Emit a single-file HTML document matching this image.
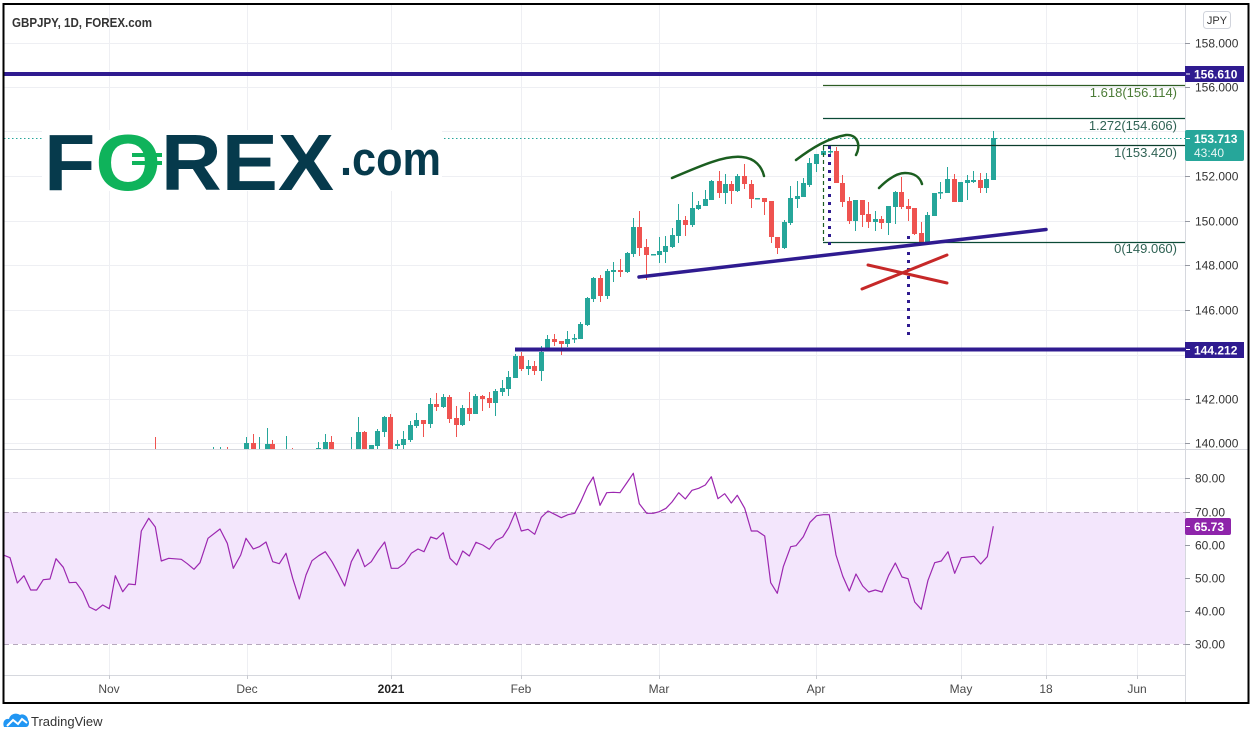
<!DOCTYPE html>
<html><head><meta charset="utf-8"><style>
html,body{margin:0;padding:0;background:#fff;}
svg{display:block;font-family:"Liberation Sans",sans-serif;}
</style></head><body>
<svg width="1255" height="740" viewBox="0 0 1255 740" xmlns="http://www.w3.org/2000/svg">
<defs>
<clipPath id="pp"><rect x="4" y="5" width="1181" height="444"/></clipPath>
<clipPath id="rp"><rect x="4" y="450" width="1181" height="225"/></clipPath>
</defs>
<rect width="1255" height="740" fill="#fff"/>

<!-- grid -->
<g stroke="#eeeff3" stroke-width="1">
<path d="M4 43.5H1185M4 87.5H1185M4 131.5H1185M4 176.5H1185M4 221.5H1185M4 265.5H1185M4 310.5H1185M4 355.5H1185M4 399.5H1185M4 443.5H1185"/>
<path d="M4 478.5H1185M4 545.5H1185M4 578.5H1185M4 611.5H1185"/>
<path d="M109.5 5V679M247.5 5V679M391.5 5V679M521.5 5V679M659.5 5V679M816.5 5V679M961.5 5V679M1046.5 5V679M1137.5 5V679"/>
</g>

<!-- RSI band -->
<rect x="4" y="512" width="1181" height="132" fill="#f3e6fc"/>
<path d="M4 512.5H1185M4 644.5H1185" stroke="#b6a8bd" stroke-width="1" stroke-dasharray="5 4"/>

<!-- current price dotted -->
<path d="M4 138.5H1185" stroke="#26a69a" stroke-width="1" stroke-dasharray="1.5 2.5"/>

<!-- logo -->
<rect x="42" y="130" width="400" height="61" fill="#fff"/>
<text x="44" y="190" font-size="80" font-weight="bold" fill="#063a4c" textLength="290" lengthAdjust="spacingAndGlyphs">F<tspan fill="#0fb35b">O</tspan>REX</text>
<rect x="132" y="153" width="30" height="4" fill="#0fb35b"/>
<rect x="132" y="161" width="30" height="4" fill="#0fb35b"/>
<text x="340" y="175" font-size="47" font-weight="bold" fill="#063a4c" textLength="101" lengthAdjust="spacingAndGlyphs">.com</text>

<!-- title -->
<text x="12" y="27" font-size="13" font-weight="bold" fill="#333" textLength="140" lengthAdjust="spacingAndGlyphs">GBPJPY, 1D, FOREX.com</text>

<!-- candles -->
<g clip-path="url(#pp)">
<path stroke="#26a69a" stroke-width="1" fill="none" d="M213.5 447V460M220.5 447V460M246.5 437V460M259.5 437V460M267.5 428V460M286.5 436V460M318.5 442V460M325.5 434V460M351.5 437V460M358.5 417V460M371.5 445V460M377.5 429V452M384.5 416V437M397.5 440V452M403.5 431V452M410.5 421V442M416.5 413V428M430.5 398V428M443.5 394V408M462.5 405V426M475.5 394V414M495.5 389V416M502.5 380V396M508.5 371V396M515.5 354V378M528.5 360V375M541.5 346V381M547.5 335V348M567.5 331V347M574.5 334V343M580.5 322V339M587.5 297V326M593.5 277V302M607.5 269V299M613.5 262V282M627.5 252V273M633.5 218V257M659.5 237V263M665.5 236V263M672.5 228V248M678.5 204V243M692.5 192V227M698.5 201V210M705.5 190V206M711.5 180V200M725.5 174V204M737.5 174V192M784.5 220V249M790.5 186V225M797.5 181V208M803.5 178V197M809.5 158V187M816.5 154V172M823.5 146V155M830.5 147V157M855.5 200V231M875.5 211V231M888.5 206V235M895.5 191V224M927.5 212V242M934.5 193V216M940.5 182V199M947.5 167V193M960.5 182V202M967.5 175V200M973.5 171V183M986.5 173V193M993.5 131V180"/>
<g fill="#26a69a">
<rect x="244" y="443" width="5" height="12"/><rect x="257" y="452" width="5" height="3"/><rect x="265" y="444" width="5" height="11"/><rect x="284" y="452" width="5" height="8"/><rect x="316" y="448" width="5" height="7"/><rect x="323" y="442" width="5" height="13"/><rect x="349" y="452" width="5" height="8"/><rect x="356" y="432" width="5" height="23"/><rect x="369" y="445" width="5" height="10"/><rect x="375" y="431" width="5" height="15"/><rect x="382" y="417" width="5" height="15"/><rect x="395" y="444" width="5" height="2"/><rect x="401" y="439" width="5" height="6"/><rect x="408" y="425" width="5" height="15"/><rect x="414" y="420" width="5" height="6"/><rect x="428" y="404" width="5" height="20"/><rect x="441" y="397" width="5" height="10"/><rect x="460" y="408" width="5" height="17"/><rect x="473" y="396" width="5" height="18"/><rect x="493" y="391" width="5" height="12"/><rect x="500" y="388" width="5" height="4"/><rect x="506" y="377" width="5" height="12"/><rect x="513" y="356" width="5" height="22"/><rect x="526" y="366" width="5" height="3"/><rect x="539" y="352" width="5" height="19"/><rect x="545" y="339" width="5" height="9"/><rect x="565" y="339" width="5" height="5"/><rect x="572" y="338" width="5" height="1.5"/><rect x="578" y="324" width="5" height="15"/><rect x="585" y="298" width="5" height="27"/><rect x="591" y="278" width="5" height="21"/><rect x="605" y="271" width="5" height="25"/><rect x="611" y="270" width="5" height="2"/><rect x="625" y="253" width="5" height="19"/><rect x="631" y="227" width="5" height="27"/><rect x="651" y="254" width="5" height="1.5"/><rect x="657" y="251" width="5" height="4"/><rect x="663" y="246" width="5" height="6"/><rect x="670" y="235" width="5" height="12"/><rect x="676" y="220" width="5" height="16"/><rect x="690" y="208" width="5" height="17"/><rect x="696" y="205" width="5" height="4"/><rect x="703" y="199" width="5" height="7"/><rect x="709" y="181" width="5" height="19"/><rect x="723" y="184" width="5" height="9"/><rect x="735" y="176" width="5" height="15"/><rect x="755" y="198" width="5" height="1.5"/><rect x="782" y="222" width="5" height="26"/><rect x="788" y="198" width="5" height="25"/><rect x="795" y="196" width="5" height="3"/><rect x="801" y="183" width="5" height="14"/><rect x="807" y="163" width="5" height="22"/><rect x="814" y="154" width="5" height="10"/><rect x="821" y="151" width="5" height="4"/><rect x="828" y="151" width="5" height="1.5"/><rect x="853" y="200" width="5" height="21"/><rect x="873" y="219" width="5" height="3"/><rect x="886" y="206" width="5" height="17"/><rect x="893" y="192" width="5" height="15"/><rect x="925" y="215" width="5" height="27"/><rect x="932" y="193" width="5" height="23"/><rect x="938" y="192" width="5" height="1.5"/><rect x="945" y="179" width="5" height="14"/><rect x="958" y="182" width="5" height="20"/><rect x="965" y="180" width="5" height="3"/><rect x="971" y="180" width="5" height="2"/><rect x="984" y="179" width="5" height="9"/><rect x="991" y="138" width="5" height="42"/>
</g>
<path stroke="#ef5350" stroke-width="1" fill="none" d="M155.5 437V460M227.5 447V460M253.5 434V460M272.5 440V460M292.5 448V460M331.5 436V460M364.5 431V460M390.5 414V455M423.5 420V437M436.5 393V411M449.5 395V423M456.5 406V437M469.5 392V421M482.5 395V411M489.5 392V408M521.5 352V371M534.5 361V375M554.5 334V346M561.5 341V355M600.5 275V302M620.5 259V277M639.5 211V256M646.5 239V280M685.5 216V236M719.5 171V198M731.5 181V204M744.5 164V189M751.5 180V208M764.5 198V215M771.5 201V243M777.5 237V254M836.5 147V183M842.5 175V207M849.5 197V224M862.5 200V227M868.5 202V228M881.5 216V229M901.5 177V209M908.5 199V221M914.5 208V235M921.5 222V242M954.5 174V202M980.5 173V193"/>
<g fill="#ef5350">
<rect x="251" y="443" width="5" height="12"/><rect x="270" y="444" width="5" height="11"/><rect x="329" y="442" width="5" height="13"/><rect x="362" y="432" width="5" height="23"/><rect x="388" y="417" width="5" height="35"/><rect x="421" y="420" width="5" height="4"/><rect x="434" y="404" width="5" height="3"/><rect x="447" y="397" width="5" height="22"/><rect x="454" y="418" width="5" height="7"/><rect x="467" y="408" width="5" height="6"/><rect x="480" y="396" width="5" height="3"/><rect x="487" y="398" width="5" height="5"/><rect x="519" y="356" width="5" height="13"/><rect x="532" y="366" width="5" height="5"/><rect x="552" y="339" width="5" height="3"/><rect x="559" y="341" width="5" height="3"/><rect x="598" y="278" width="5" height="18"/><rect x="618" y="270" width="5" height="2"/><rect x="637" y="227" width="5" height="21"/><rect x="644" y="247" width="5" height="8"/><rect x="683" y="220" width="5" height="5"/><rect x="717" y="181" width="5" height="12"/><rect x="729" y="184" width="5" height="7"/><rect x="742" y="176" width="5" height="8"/><rect x="749" y="184" width="5" height="15"/><rect x="762" y="198" width="5" height="4"/><rect x="769" y="201" width="5" height="36"/><rect x="775" y="237" width="5" height="11"/><rect x="834" y="151" width="5" height="32"/><rect x="840" y="183" width="5" height="19"/><rect x="847" y="201" width="5" height="20"/><rect x="860" y="200" width="5" height="15"/><rect x="866" y="214" width="5" height="8"/><rect x="879" y="219" width="5" height="4"/><rect x="899" y="192" width="5" height="15"/><rect x="906" y="206" width="5" height="3"/><rect x="912" y="208" width="5" height="26"/><rect x="919" y="233" width="5" height="9"/><rect x="952" y="179" width="5" height="23"/><rect x="978" y="180" width="5" height="8"/>
</g>

<!-- horizontal levels -->
<path d="M4 74H1185" stroke="#2f1b90" stroke-width="4"/>
<path d="M515 349.5H1185" stroke="#2f1b90" stroke-width="4"/>

<!-- fib -->
<path d="M823 85.5H1185" stroke="#2e5d24" stroke-width="1.3"/>
<path d="M823 118.5H1185" stroke="#0b4a36" stroke-width="1.3"/>
<path d="M823 145.5H1185" stroke="#0b3d2c" stroke-width="1.3"/>
<path d="M823 242.5H1185" stroke="#0b4a36" stroke-width="1.3"/>
<path d="M823.5 146V242" stroke="#1b5e20" stroke-width="1.2" stroke-dasharray="4 3"/>
<g font-size="13" text-anchor="end">
<text x="1177" y="97" fill="#4b7b36">1.618(156.114)</text>
<text x="1177" y="130" fill="#2f6254">1.272(154.606)</text>
<text x="1177" y="157" fill="#2f6254">1(153.420)</text>
<text x="1177" y="253" fill="#2f6254">0(149.060)</text>
</g>

<!-- trend line -->
<path d="M639 277L1046 229.5" stroke="#2f1b90" stroke-width="3.5" stroke-linecap="round"/>

<!-- dotted verticals -->
<path d="M829.5 146V247" stroke="#2f1b90" stroke-width="3" stroke-dasharray="3 5"/>
<path d="M908.5 236V339" stroke="#2f1b90" stroke-width="3" stroke-dasharray="3 5"/>

<!-- red X -->
<path d="M868 265L947 283M862 289L947 255" stroke="#c62828" stroke-width="3" stroke-linecap="round"/>

<!-- green arcs -->
<g stroke="#1b5e20" stroke-width="2.5" fill="none" stroke-linecap="round">
<path d="M672 178C700 166 725 155 742 157C755 158 762 167 764 176"/>
<path d="M796 160C812 148 828 138 846 135C858 134 861 146 856 155"/>
<path d="M879 188C888 179 897 173 905 173C914 173 920 177 922 184"/>
</g>
</g>

<!-- RSI line -->
<g clip-path="url(#rp)">
<polyline fill="none" stroke="#9c27b0" stroke-width="1.2" stroke-linejoin="round" points="3.3,555 10,557.7 17.3,583 24,575.7 30.7,590 36.7,590 43.3,579.7 50,579 56,558.7 63.3,567.3 69.3,582.7 76,582.3 82.7,591.7 89.3,607 96,610.3 102.7,605 109.3,608.7 115.3,575.7 122.7,591.7 128.7,584 135.3,584.7 141.3,531 148.7,518.3 155.3,527 161.3,561 168.7,558.3 181.3,559.3 187.3,563.7 194,569.3 200,562.7 208,538.3 220,529 227.3,543.3 233.3,568.3 240.7,555 246,538.3 253.3,549 259.3,546.7 266,542 272.7,561.7 279.3,563.7 286,553.3 292.7,578.3 299.3,599 306,575 312,560.7 318.7,555.7 325.3,551.7 332,561.7 338,572.7 344.7,586 351.3,561.7 358,549.3 364.7,566.7 371.3,561.7 378,551 384.7,542 391.3,568.3 398,568.3 404.7,563.3 411.3,553.3 418,549 424,551.7 430.7,537 436.7,539 443.3,532.7 450,558.3 456.7,565 462.7,551 469.3,556 476,542.3 482.7,545 489.3,549.3 496,540.3 502.7,537 508.7,527.7 515.3,512.3 521.3,531 528,529.3 534.7,534.3 541.3,517.3 548,511 554.7,514.3 561.3,517.7 568,514.7 574.7,513.3 580.7,501.7 587.3,486.7 593.3,477 600,505.3 606.7,492.7 613.3,492.3 620,492.7 626.7,483 633.3,473.3 639.3,503.7 646.7,513.3 653.3,513.3 659.3,511.7 666,508.3 672,502 678.7,492.7 685.3,499 692,490.3 698.7,488.3 705.3,485 711.3,476.7 718,498.7 724.7,493.7 731.3,503 737.3,495.3 744.7,508.3 751.3,531 757.3,531 764.7,536 770.7,582.7 777.3,593.3 783.3,566.7 790.7,546.7 796,545.7 803.3,536.7 810,522.3 816.7,515.7 823.3,514.7 829.3,514.7 836,555 842.7,576 849.3,591 856,574 862.7,586 868.7,592 875.3,590 882,592 888.7,575.3 895.3,563 902,577 908,578.7 914.7,602 921.3,609.3 928,580.3 934.7,562.7 941.3,561 948,551.7 954.7,573.3 961.3,557.7 968,557 974,556.3 980.7,564 987.3,556.7 993.3,526.3"/>
</g>

<!-- axes lines -->
<path d="M1185.5 4V703" stroke="#d6d8de" stroke-width="1"/>
<path d="M4 449.5H1248" stroke="#d6d8de" stroke-width="1"/>
<path d="M4 675.5H1185" stroke="#d6d8de" stroke-width="1"/>

<!-- price axis labels -->
<g stroke="#9598a1" stroke-width="1">
<path d="M1185 43.5H1190M1185 87.5H1190M1185 176.5H1190M1185 221.5H1190M1185 265.5H1190M1185 310.5H1190M1185 399.5H1190M1185 443.5H1190M1185 478.5H1190M1185 512.5H1190M1185 545.5H1190M1185 578.5H1190M1185 611.5H1190M1185 644.5H1190"/>
</g>
<g font-size="12" fill="#333">
<text x="1195" y="47.5">158.000</text>
<text x="1195" y="91.5">156.000</text>
<text x="1195" y="180.5">152.000</text>
<text x="1195" y="225.5">150.000</text>
<text x="1195" y="269.5">148.000</text>
<text x="1195" y="314.5">146.000</text>
<text x="1195" y="403.5">142.000</text>
<text x="1195" y="447.5">140.000</text>
<text x="1195" y="482.5">80.00</text>
<text x="1195" y="516.5">70.00</text>
<text x="1195" y="549.5">60.00</text>
<text x="1195" y="582.5">50.00</text>
<text x="1195" y="615.5">40.00</text>
<text x="1195" y="648.5">30.00</text>
</g>

<!-- JPY -->
<rect x="1203.5" y="11.5" width="27" height="17" rx="3" fill="#fff" stroke="#d1d4dc"/>
<text x="1217" y="24" font-size="11" fill="#333" text-anchor="middle">JPY</text>

<!-- axis boxes -->
<rect x="1185" y="66" width="59" height="16" fill="#2f1b90"/>
<path d="M1186 74H1190" stroke="#fff"/>
<text x="1194" y="78.5" font-size="12" font-weight="bold" fill="#fff">156.610</text>
<rect x="1185" y="130" width="59" height="31" rx="2" fill="#26a69a"/>
<path d="M1186 138.5H1190" stroke="#fff"/>
<text x="1194" y="143" font-size="12" font-weight="bold" fill="#fff">153.713</text>
<text x="1194" y="157" font-size="12" fill="#e8f6f4">43:40</text>
<rect x="1185" y="342" width="59" height="16" fill="#2f1b90"/>
<path d="M1186 349.5H1190" stroke="#fff"/>
<text x="1194" y="354.5" font-size="12" font-weight="bold" fill="#fff">144.212</text>
<rect x="1185" y="518" width="46" height="17" rx="2" fill="#8e24aa"/>
<path d="M1186 526.5H1190" stroke="#fff"/>
<text x="1194" y="531" font-size="12" font-weight="bold" fill="#fff">65.73</text>

<!-- time axis -->
<g stroke="#c8cad0"><path d="M109.5 675V679M247.5 675V679M391.5 675V679M521.5 675V679M659.5 675V679M816.5 675V679M961.5 675V679M1046.5 675V679M1137.5 675V679"/></g>
<g font-size="12" fill="#4a4a4a" text-anchor="middle">
<text x="109" y="693">Nov</text>
<text x="247" y="693">Dec</text>
<text x="391" y="693" font-weight="bold" fill="#222">2021</text>
<text x="521" y="693">Feb</text>
<text x="659" y="693">Mar</text>
<text x="816" y="693">Apr</text>
<text x="961" y="693">May</text>
<text x="1046" y="693">18</text>
<text x="1137" y="693">Jun</text>
</g>

<!-- outer border -->
<rect x="3.5" y="4" width="1245" height="699" fill="none" stroke="#000" stroke-width="2"/>

<!-- TradingView logo -->
<path d="M4 727C2 722 5 718 9 719C10 714 16 712 20 715C23 713 28 716 28 720C30 722 29 727 26 727Z" fill="#2196f3"/>
<path d="M7 726L13 720L18 724L22 719L27 723" stroke="#fff" stroke-width="2" fill="none"/>
<text x="31" y="726" font-size="13" fill="#333">TradingView</text>
</svg>
</body></html>
